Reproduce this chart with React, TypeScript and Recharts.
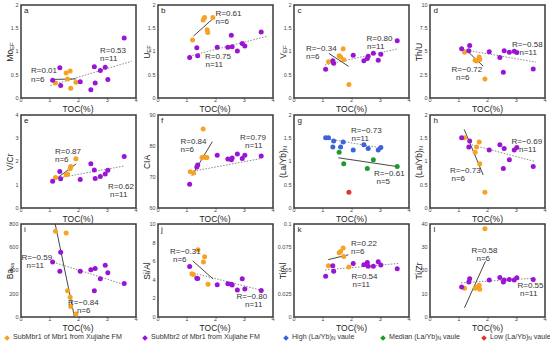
import React from 'react';
import { ScatterChart, Scatter, XAxis, YAxis, ReferenceLine, ReferenceArea } from 'recharts';

// TOC (%) of the samples, shared by most panels
const tocSub1 = [1.2, 1.57, 1.62, 1.71, 1.73, 1.91];
const tocSub2 = [1.1, 1.35, 1.38, 2.06, 2.43, 2.55, 2.58, 2.76, 2.93, 3.02, 3.59];

const moSub1 = [0.32, 0.54, 0.41, 0.58, 0.21, 0.34];
const moSub2 = [0.38, 0.65, 0.27, 0.35, 0.18, 0.67, 0.32, 0.59, 0.66, 0.4, 1.29];
const uSub1 = [1.25, 1.68, 1.73, 1.47, 1.41, 1.73];
const uSub2 = [0.87, 1.08, 0.91, 1.09, 1.09, 1.35, 1.1, 1.01, 1.17, 1.12, 1.42];
const vSub1 = [0.78, 0.91, 0.88, 1.06, 0.82, 0.29];
const vSub2 = [0.62, 0.8, 0.75, 0.92, 0.8, 0.85, 0.9, 0.96, 0.81, 0.94, 1.23];
const thuSub1 = [4.93, 4.06, 3.99, 4.42, 4.14, 2.05];
const thuSub2 = [5.29, 5.07, 5.65, 4.96, 4.35, 2.77, 5.07, 4.93, 5.04, 4.89, 3.13];
const vcrSub1 = [1.31, 1.43, 1.46, 1.69, 1.79, 2.12];
const vcrSub2 = [1.15, 1.57, 1.26, 1.23, 1.9, 1.63, 1.27, 1.36, 1.46, 1.62, 2.21];
const ciaToc1 = [1.12, 1.24, 1.53, 1.57, 1.65, 1.7];
const ciaSub1 = [71.7, 71.3, 76.3, 85.5, 76.3, 76.3];
const ciaSub2 = [67.7, 73.2, 73.9, 77.0, 75.8, 75.6, 76.1, 77.4, 76.0, 77.0, 76.8];
const laybSub1 = [1.51, 1.2, 1.31, 1.42, 0.95, 0.34];
const laybSub2 = [1.51, 1.31, 1.44, 1.25, 1.36, 0.85, 1.28, 1.04, 1.25, 1.3, 0.89];
const baSub1 = [737, 723, 226, 169, 90, 25];
const baSub2 = [474, 394, 557, 394, 406, 226, 417, 329, 446, 380, 289];
const siToc1 = [1.18, 1.23, 1.39, 1.58, 1.62, 1.74];
const siSub1 = [4.65, 4.57, 7.23, 5.92, 6.49, 3.51];
const siSub2 = [5.43, 4.18, 4.15, 3.48, 3.58, 3.51, 3.44, 2.91, 4.11, 3.01, 2.84];
const tialSub1 = [0.0551, 0.069, 0.0705, 0.0742, 0.065, 0.0537];
const tialSub2 = [0.0439, 0.0551, 0.0492, 0.0575, 0.0561, 0.0586, 0.0547, 0.0547, 0.0593, 0.0558, 0.052];
const tizrSub1 = [12.4, 12.4, 12.9, 13.7, 11.9, 38.0];
const tizrSub2 = [12.9, 15.1, 16.4, 15.9, 17.0, 15.1, 15.9, 16.1, 15.9, 16.9, 16.1];

// panel g: samples grouped by (La/Yb)N
const highToc = [1.1, 1.2, 1.35, 1.38, 1.62, 1.71, 2.06, 2.43, 2.58, 2.93, 3.02];
const highVal = [1.51, 1.51, 1.31, 1.44, 1.31, 1.42, 1.25, 1.36, 1.28, 1.25, 1.3];
const medianToc = [1.57, 1.73, 2.55, 2.76, 3.59];
const medianVal = [1.2, 0.95, 0.85, 1.04, 0.89];
const lowToc = [1.91];
const lowVal = [0.34];

// fitted lines, panels a..l: [x1, y1, x2, y2]
const fitSolid = [
  [1.13, 0.4, 1.92, 0.41],
  [1.23, 1.33, 1.92, 1.71],
  [1.21, 0.96, 1.9, 0.68],
  [1.27, 5.14, 1.85, 3.42],
  [1.23, 1.26, 1.92, 1.9],
  [1.18, 70.4, 1.89, 81.4],
  [1.54, 1.08, 3.6, 0.89],
  [1.19, 1.69, 1.85, 0.71],
  [1.19, 800, 1.86, 0],
  [1.21, 6.03, 1.92, 4.08],
  [1.19, 0.0617, 1.89, 0.0669],
  [1.2, 4, 1.93, 24],
];
const fitDotted = [
  [1.02, 0.27, 3.85, 0.79],
  [1.09, 0.9, 3.81, 1.33],
  [1.08, 0.71, 3.63, 1.06],
  [1.08, 5.25, 3.68, 3.85],
  [1.25, 1.28, 3.56, 1.8],
  [1.24, 71.9, 3.61, 76.0],
  [1.05, 1.5, 3.05, 1.29],
  [1.45, 1.36, 3.65, 1.0],
  [1.02, 480, 3.58, 280],
  [1.15, 4.79, 3.64, 2.84],
  [1.08, 0.0506, 3.63, 0.0575],
  [1.08, 14.7, 3.65, 16.7],
];

const xTicks = [0, 1, 2, 3, 4];

const ORANGE = '#F5A225';
const PURPLE = '#9A14D4';
const BLUE = '#3D62DF';
const GREEN = '#1F9A2E';
const RED = '#E5332A';

const pts = (xs: number[], ys: number[]) => xs.map((x, i) => ({ x, y: ys[i] }));

const colLeft = [20.5, 157.5, 294, 430];
const rowTop = [5, 115, 224];
const PW = 115;
const PH = 93;

type Series = { data: { x: number; y: number }[]; color: string };
type Note = [string, number, number];

const panels: {
  id: string;
  ylabel: React.ReactNode;
  domain: [number, number];
  ticks: number[];
  series: Series[];
  notes: Note[];
}[] = [
  { id: 'a', ylabel: <>Mo<sub>EF</sub></>, domain: [0, 2], ticks: [0, 0.5, 1, 1.5, 2],
    series: [{ data: pts(tocSub1, moSub1), color: ORANGE }, { data: pts(tocSub2, moSub2), color: PURPLE }],
    notes: [['R=0.01', 31, 71], ['n=6', 31, 79.5], ['R=0.53', 100, 50.5], ['n=11', 100, 58.5]] },
  { id: 'b', ylabel: <>U<sub>EF</sub></>, domain: [0, 2], ticks: [0, 0.5, 1, 1.5, 2],
    series: [{ data: pts(tocSub1, uSub1), color: ORANGE }, { data: pts(tocSub2, uSub2), color: PURPLE }],
    notes: [['R=0.61', 215.5, 14], ['n=6', 215.5, 22], ['R=0.75', 205, 56.5], ['n=11', 205.5, 64.5]] },
  { id: 'c', ylabel: <>V<sub>EF</sub></>, domain: [0, 2], ticks: [0, 0.5, 1, 1.5, 2],
    series: [{ data: pts(tocSub1, vSub1), color: ORANGE }, { data: pts(tocSub2, vSub2), color: PURPLE }],
    notes: [['R=\u22120.34', 306, 49], ['n=6', 306, 57], ['R=0.80', 366.5, 39], ['n=11', 367, 47]] },
  { id: 'd', ylabel: 'Th/U', domain: [0, 10], ticks: [0, 2.5, 5, 7.5, 10],
    series: [{ data: pts(tocSub1, thuSub1), color: ORANGE }, { data: pts(tocSub2, thuSub2), color: PURPLE }],
    notes: [['R=\u22120.72', 451.5, 70], ['n=6', 456, 78], ['R=\u22120.58', 512, 45], ['n=11', 519.5, 53]] },
  { id: 'e', ylabel: 'V/Cr', domain: [0, 4], ticks: [0, 1, 2, 3, 4],
    series: [{ data: pts(tocSub1, vcrSub1), color: ORANGE }, { data: pts(tocSub2, vcrSub2), color: PURPLE }],
    notes: [['R=0.87', 55, 151.5], ['n=6', 55, 159.5], ['R=0.62', 108, 186.5], ['n=11', 110, 194.5]] },
  { id: 'f', ylabel: 'CIA', domain: [60, 90], ticks: [60, 70, 80, 90],
    series: [{ data: pts(ciaToc1, ciaSub1), color: ORANGE }, { data: pts(tocSub2, ciaSub2), color: PURPLE }],
    notes: [['R=0.84', 180.5, 141.5], ['n=6', 180.5, 149.5], ['R=0.79', 240, 138], ['n=11', 245, 146]] },
  { id: 'g', ylabel: <>(La/Yb)<sub>N</sub></>, domain: [0, 2], ticks: [0, 0.5, 1, 1.5, 2],
    series: [
      { data: pts(highToc, highVal), color: BLUE },
      { data: pts(medianToc, medianVal), color: GREEN },
      { data: pts(lowToc, lowVal), color: RED },
    ],
    notes: [['R=\u22120.73', 351, 131], ['n=11', 351.5, 139], ['R=\u22120.61', 374, 174], ['n=5', 376.5, 182]] },
  { id: 'h', ylabel: <>(La/Yb)<sub>N</sub></>, domain: [0, 2], ticks: [0, 0.5, 1, 1.5, 2],
    series: [{ data: pts(tocSub1, laybSub1), color: ORANGE }, { data: pts(tocSub2, laybSub2), color: PURPLE }],
    notes: [['R=\u22120.73', 450, 171], ['n=6', 451.5, 179], ['R=\u22120.69', 511.5, 142], ['n=11', 519, 150]] },
  { id: 'i', ylabel: <>Ba<sub>xs</sub></>, domain: [0, 800], ticks: [0, 200, 400, 600, 800],
    series: [{ data: pts(tocSub1, baSub1), color: ORANGE }, { data: pts(tocSub2, baSub2), color: PURPLE }],
    notes: [['R=\u22120.59', 21.5, 258], ['n=11', 26.5, 266], ['R=\u22120.84', 68, 303], ['n=6', 77, 311]] },
  { id: 'j', ylabel: 'Si/Al', domain: [0, 10], ticks: [0, 2, 4, 6, 8, 10],
    series: [{ data: pts(siToc1, siSub1), color: ORANGE }, { data: pts(tocSub2, siSub2), color: PURPLE }],
    notes: [['R=\u22120.31', 170, 251.5], ['n=6', 173, 259.5], ['R=\u22120.80', 236.5, 297], ['n=11', 245, 305]] },
  { id: 'k', ylabel: 'Ti/Al', domain: [0, 0.1], ticks: [0, 0.025, 0.05, 0.075, 0.1],
    series: [{ data: pts(tocSub1, tialSub1), color: ORANGE }, { data: pts(tocSub2, tialSub2), color: PURPLE }],
    notes: [['R=0.22', 351, 244], ['n=6', 351, 252], ['R=0.54', 351.5, 277], ['n=11', 352.5, 285]] },
  { id: 'l', ylabel: 'Ti/Zr', domain: [0, 40], ticks: [0, 10, 20, 30, 40],
    series: [{ data: pts(tocSub1, tizrSub1), color: ORANGE }, { data: pts(tocSub2, tizrSub2), color: PURPLE }],
    notes: [['R=0.58', 471.5, 251], ['n=6', 476.5, 259], ['R=0.55', 517.5, 286], ['n=11', 520, 294]] },
];

const FONT = '"Liberation Sans", Arial, sans-serif';

function Dot(color: string) {
  return (p: any) => <circle cx={p.cx} cy={p.cy} r={2.5} fill={color} />;
}

function Panel({ idx }: { idx: number }) {
  const p = panels[idx];
  const col = idx % 4;
  const row = Math.floor(idx / 4);
  const left = colLeft[col];
  const top = rowTop[row];
  const s = fitSolid[idx];
  const d = fitDotted[idx];
  return (
    <>
      <div style={{ position: 'absolute', left: left - 20, top: top - 5 }}>
        <ScatterChart width={20 + PW + 4} height={5 + PH + 8} margin={{ top: 5, right: 4, bottom: 0, left: 0 }}>
          <XAxis
            type="number"
            dataKey="x"
            domain={[0, 4]}
            ticks={xTicks}
            axisLine={false}
            tickLine={false}
            tickSize={0}
            tickMargin={0.5}
            height={8}
            tick={{ fontSize: 5.5, fill: '#444', fontFamily: FONT }}
          />
          <YAxis
            type="number"
            dataKey="y"
            domain={p.domain}
            ticks={p.ticks}
            axisLine={false}
            tickLine={false}
            tickSize={0}
            tickMargin={2.5}
            width={20}
            tick={{ fontSize: 5.5, fill: '#444', fontFamily: FONT }}
          />
          <ReferenceArea x1={0} x2={4} y1={p.domain[0]} y2={p.domain[1]} fill="none" stroke="#3a3a3a" strokeWidth={1.5} />
          <ReferenceLine
            segment={[{ x: d[0], y: d[1] }, { x: d[2], y: d[3] }]}
            stroke="#8a8a8a"
            strokeWidth={1}
            strokeDasharray="1.5 1.5"
          />
          <ReferenceLine
            segment={[{ x: s[0], y: s[1] }, { x: s[2], y: s[3] }]}
            stroke="#333"
            strokeWidth={0.9}
          />
          {p.series.map((sr, k) => (
            <Scatter key={k} data={sr.data} isAnimationActive={false} shape={Dot(sr.color)} />
          ))}
        </ScatterChart>
      </div>
      <div style={{ position: 'absolute', left: left + 3.5, top: top + 2, fontSize: 8, color: '#222', lineHeight: 1 }}>{p.id}</div>
      <div
        style={{
          position: 'absolute',
          left: left - 11,
          top: top + PH / 2,
          transform: 'translate(-50%, -50%) rotate(-90deg)',
          fontSize: 8.5,
          whiteSpace: 'nowrap',
          color: '#222',
          lineHeight: 1,
        }}
      >
        {p.ylabel}
      </div>
      <div
        style={{
          position: 'absolute',
          left: left + PW / 2,
          top: top + PH + 10.5,
          transform: 'translate(-50%, -50%)',
          fontSize: 8.5,
          color: '#222',
          lineHeight: 1,
        }}
      >
        TOC(%)
      </div>
      {p.notes.map(([t, x, y], k) => (
        <div key={k} style={{ position: 'absolute', left: x, top: y - 4, fontSize: 8, color: '#333', lineHeight: '8px', height: 8, whiteSpace: 'nowrap' }}>
          {t}
        </div>
      ))}
    </>
  );
}

const legendItems: { color: string; label: React.ReactNode; x: number }[] = [
  { color: ORANGE, label: 'SubMbr1 of Mbr1 from Xujiahe FM', x: 8 },
  { color: PURPLE, label: 'SubMbr2 of Mbr1 from Xujiahe FM', x: 146 },
  { color: BLUE, label: <>High (La/Yb)<sub>N</sub> vaule</>, x: 287 },
  { color: GREEN, label: <>Median (La/Yb)<sub>N</sub> vaule</>, x: 384 },
  { color: RED, label: <>Low (La/Yb)<sub>N</sub> vaule</>, x: 485 },
];

export default function App() {
  return (
    <div style={{ position: 'absolute', left: 0, top: 0, width: 550, height: 347, background: '#fff', fontFamily: FONT, overflow: 'hidden' }}>
      <style>{`sub{font-size:70%;vertical-align:-0.25em;line-height:0}`}</style>
      {panels.map((_, i) => (
        <Panel key={i} idx={i} />
      ))}
      {legendItems.map((it, k) => (
        <div key={k} style={{ position: 'absolute', left: it.x - 3, top: 334, display: 'flex', alignItems: 'center', fontSize: 7.1, color: '#333', whiteSpace: 'nowrap', lineHeight: 1 }}>
          <span style={{ display: 'inline-block', width: 4, height: 4, background: it.color, transform: 'rotate(45deg)', marginRight: 4 }} />
          <span>{it.label}</span>
        </div>
      ))}
    </div>
  );
}
